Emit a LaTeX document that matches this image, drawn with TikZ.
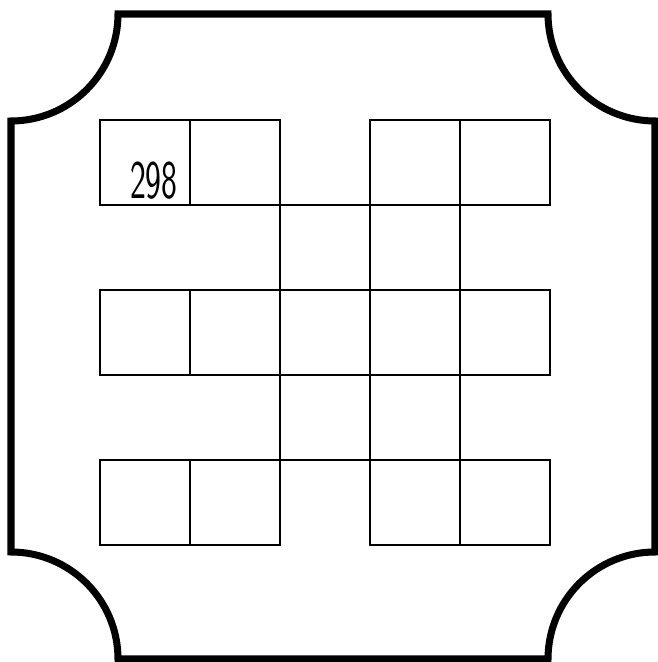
\documentclass[tikz,border=0pt]{standalone}
\usepackage{tikz}
\usetikzlibrary{calc,positioning}

\begin{document}
\begin{tikzpicture}[x=0.02cm,y=0.02cm]
  \tikzset{
    frame/.style={line width=4pt},
    cell/.style={draw,line width=1pt,inner sep=0pt,minimum width=1.8cm,minimum height=1.7cm},
    numlabel/.style={inner sep=0pt,font=\sffamily\fontsize{31}{31}\selectfont,xscale=0.62,anchor=base east}
  }
  \useasboundingbox (0,0) rectangle (658,662);
  % outer frame, corners cut in
  \draw[frame] (118,648) -- (548,648) arc[start angle=180,end angle=270,radius=107]
    -- (655,110) arc[start angle=90,end angle=180,radius=107]
    -- (118,3) arc[start angle=0,end angle=90,radius=107]
    -- (11,541) arc[start angle=270,end angle=360,radius=107] -- cycle;
  % squares
  \foreach \r/\c in {0/0,0/1,0/3,0/4,1/2,1/3,2/0,2/1,2/2,2/3,2/4,3/2,3/3,4/0,4/1,4/3,4/4}
    \node[cell] (sq-\r-\c) at ({145+90*\c},{499.5-85*\r}) {};
  \node[numlabel] (num) at ($(sq-0-0.south east)+(-13,7)$) {298};
\end{tikzpicture}
\end{document}
